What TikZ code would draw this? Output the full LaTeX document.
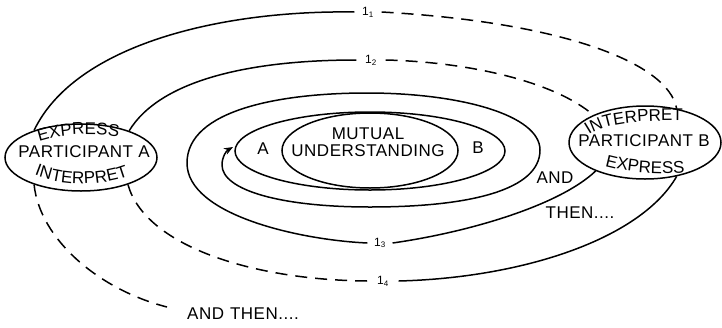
\documentclass[tikz,border=0pt]{standalone}
\usepackage{fontspec}
\setmainfont{Liberation Sans}[LetterSpace=3]
\usetikzlibrary{shapes.geometric,arrows.meta,decorations.text}
\newcommand\mytxtfont{\fontsize{17}{17}\selectfont}
\begin{document}
\begin{tikzpicture}[x=1pt,y=-1pt,line width=1.5pt,
  lbl/.style={font=\mytxtfont, inner sep=0pt},
  ring/.style={draw, ellipse, inner sep=0pt},
  idx/.style={font=\fontsize{12}{12}\selectfont, inner ysep=1pt},
  dsh/.style={dash pattern=on 12pt off 8pt},
  arctext/.style={decorate, decoration={text along path, text align=center, text={#1}}}
]
\useasboundingbox (0,0) rectangle (722,327);

% participants
\node[ring, minimum width=152pt, minimum height=67pt] (A) at (81,157.5) {};
\node[lbl] (Alab) at (84,152) {PARTICIPANT A};
\node[ring, minimum width=152pt, minimum height=73pt] (B) at (645,142.5) {};
\node[lbl] (Blab) at (644,141) {PARTICIPANT B};

% curved texts
\path[arctext={|\mytxtfont|EXPRESS}] (30,145) .. controls (55,133) and (100,131) .. (128,139);
\path[arctext={|\mytxtfont|INTERPRET}] (30,173) .. controls (60,187) and (105,187) .. (133,174);
\path[arctext={|\mytxtfont|INTERPRET}] (582,141) .. controls (598,122) and (640,120) .. (692,121);
\path[arctext={|\mytxtfont|EXPRESS}] (598,164) .. controls (625,173) and (660,175) .. (692,172);

% centre
\node[ring, minimum width=270pt, minimum height=78pt] (AB) at (370,151) {};
\node[ring, minimum width=176pt, minimum height=75pt] (MU) at (370,150.5) {};
\node[lbl, align=center] (MUlab) at (368,142.5) {MUTUAL\\UNDERSTANDING};
\node[lbl] (Alet) at (263,149) {A};
\node[lbl] (Blet) at (478,148) {B};

% labels
\node[idx, inner xsep=7pt] (l1) at (368,12) {1\textsubscript{1}};
\node[idx, inner xsep=8pt] (l2) at (371,60) {1\textsubscript{2}};
\node[idx, inner xsep=6pt] (l3) at (380,243) {1\textsubscript{3}};
\node[idx, inner xsep=9pt] (l4) at (383,281) {1\textsubscript{4}};

\node[lbl] (and) at (555,178) {AND};
\node[lbl] (then) at (580,213) {THEN....};
\node[lbl] (andthen) at (243,314) {AND\hspace{6pt}THEN....};
\coordinate (endA) at (167,307);
\coordinate (tip) at (233,147);

% connectors
\draw (A.150) .. controls (75,45) and (220,10) .. (l1.west);
\draw[dsh] (l1.east) .. controls (560,22) and (668,62) .. (B.47);
\draw (A.29) .. controls (160,80) and (250,60) .. (l2.west);
\draw[dsh] (l2.east) .. controls (470,62) and (555,82) .. (B.152);
\draw (B.210) .. controls (560,205) and (470,232) .. (l3.east);
\draw[-{Stealth[length=9pt,width=7pt]}] (l3.west)
  .. controls (300,240) and (187,215) .. (187,163)
  .. controls (187,110) and (280,93) .. (367,93)
  .. controls (460,93) and (540,115) .. (540,150)
  .. controls (540,190) and (470,207) .. (370,207)
  .. controls (280,207) and (222,190) .. (222,165)
  .. controls (222,157) and (226,151) .. (tip);
\draw (B.-47) .. controls (640,240) and (520,278) .. (l4.east);
\draw[dsh] (A.-30) .. controls (145,245) and (250,280) .. (l4.west);
\draw[dsh] (A.210) .. controls (40,240) and (100,290) .. (endA);
\end{tikzpicture}
\end{document}
